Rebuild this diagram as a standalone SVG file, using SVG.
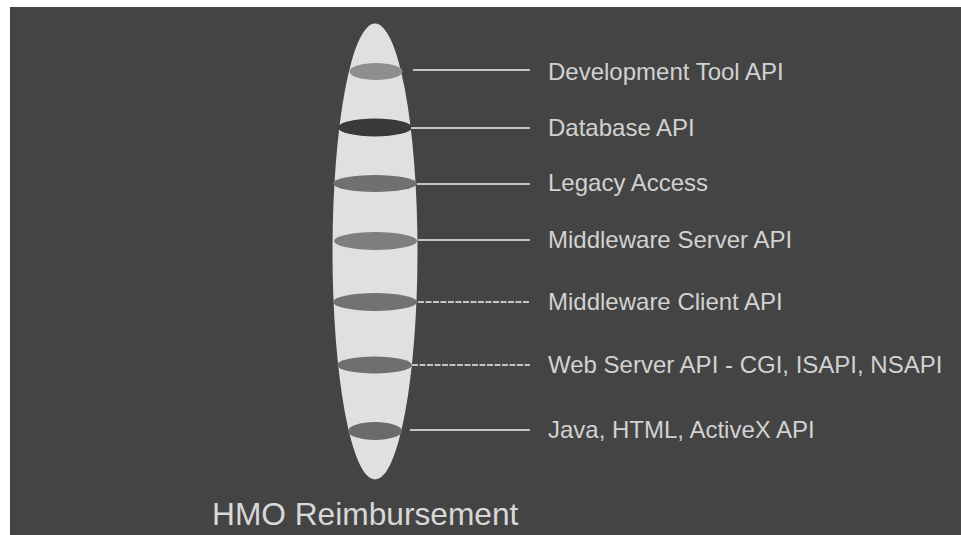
<svg xmlns="http://www.w3.org/2000/svg" width="961" height="535" viewBox="0 0 961 535">
  <style>
    .lbl { font-family: "Liberation Sans", Arial, sans-serif; font-size: 24px; fill: #d2d2d2; }
    .title { font-family: "Liberation Sans", Arial, sans-serif; font-size: 31.7px; fill: #d8d8d8; }
    .conn { stroke: #c4c4c4; stroke-width: 2; fill: none; }
    .dash { stroke-dasharray: 6 1.5; }
  </style>
  <!-- page and backdrop -->
  <rect x="0" y="0" width="961" height="535" fill="#ffffff"/>
  <rect x="10" y="7" width="951" height="528" fill="#444444"/>

  <!-- main spindle -->
  <g id="spindle">
    <ellipse cx="375" cy="251.5" rx="42.5" ry="228" fill="#e0e0e0"/>
  </g>

  <!-- API bands -->
  <g id="band-devtool"><ellipse cx="376" cy="71.5" rx="26.5" ry="8.5" fill="#8e8e8e"/></g>
  <g id="band-database"><ellipse cx="375" cy="127.5" rx="37" ry="9" fill="#3a3a3a"/></g>
  <g id="band-legacy"><ellipse cx="375" cy="183.5" rx="42" ry="8.5" fill="#707070"/></g>
  <g id="band-mw-server"><ellipse cx="375.5" cy="241" rx="41.5" ry="9" fill="#7e7e7e"/></g>
  <g id="band-mw-client"><ellipse cx="375" cy="302" rx="42" ry="9" fill="#727272"/></g>
  <g id="band-webserver"><ellipse cx="374.5" cy="365" rx="37.5" ry="8.5" fill="#6f6f6f"/></g>
  <g id="band-java"><ellipse cx="375" cy="431" rx="27" ry="9" fill="#6a6a6a"/></g>

  <!-- leader lines -->
  <g id="connectors">
    <line class="conn" x1="413" y1="70" x2="530" y2="70"/>
    <line class="conn" x1="411" y1="128" x2="530" y2="128"/>
    <line class="conn" x1="417" y1="184" x2="530" y2="184"/>
    <line class="conn" x1="418" y1="240" x2="530" y2="240"/>
    <line class="conn dash" x1="418" y1="302" x2="530" y2="302"/>
    <line class="conn dash" x1="412" y1="365" x2="530" y2="365"/>
    <line class="conn" x1="410" y1="430" x2="530" y2="430"/>
  </g>

  <!-- labels -->
  <g id="label-devtool"><text class="lbl" x="548" y="80">Development Tool API</text></g>
  <g id="label-database"><text class="lbl" x="548" y="136">Database API</text></g>
  <g id="label-legacy"><text class="lbl" x="548" y="191">Legacy Access</text></g>
  <g id="label-mw-server"><text class="lbl" x="548" y="248">Middleware Server API</text></g>
  <g id="label-mw-client"><text class="lbl" x="548" y="310">Middleware Client API</text></g>
  <g id="label-webserver"><text class="lbl" x="548" y="373">Web Server API - CGI, ISAPI, NSAPI</text></g>
  <g id="label-java"><text class="lbl" x="548" y="438">Java, HTML, ActiveX API</text></g>

  <g id="title"><text class="title" x="212" y="525">HMO Reimbursement</text></g>
</svg>
